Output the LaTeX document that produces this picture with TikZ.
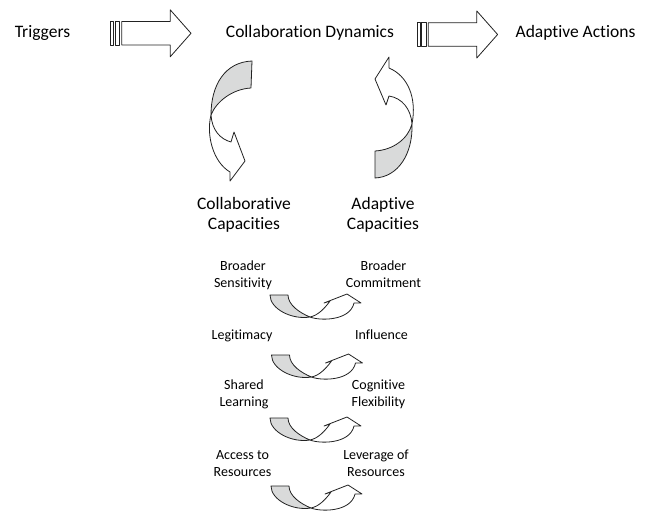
\documentclass[tikz,border=0pt]{standalone}
\usepackage{fontspec}
\setmainfont{Carlito}[Ligatures=NoCommon]
\definecolor{lgray}{HTML}{D9DADA}
\definecolor{ink}{HTML}{222222}
\newcommand{\mytwo}[2]{\begin{tabular}[t]{@{}c@{}}#1\\#2\end{tabular}}
\begin{document}
\begin{tikzpicture}[x=1pt,y=-1pt,line join=round,
  shp/.style={draw=ink,line width=0.8pt,fill=white},
  gry/.style={draw=ink,line width=0.8pt,fill=lgray},
  big/.style={font=\fontsize{17.5}{20}\selectfont,inner sep=0pt,anchor=base},
  sml/.style={font=\fontsize{14}{17}\selectfont,inner sep=0pt,anchor=base},
  striped/.pic={
    \draw[shp] (0,-11.7) rectangle (2.7,11.7);
    \draw[shp] (4.3,-11.7) rectangle (8.6,11.7);
    \draw[shp] (11,-11.7) -- (59.5,-11.7) -- (59.5,-23.5) -- (80.3,0) -- (59.5,23.5) -- (59.5,11.7) -- (11,11.7) -- cycle;
  },
  smallarrow/.pic={
    \draw[gry] (0,0) -- (18,0) .. controls (18,10) and (30,18) .. (40,22)
      .. controls (22,25) and (0,14) .. (0,0) -- cycle;
    \draw[shp] (40,22) .. controls (48,20.5) and (55,13) .. (60,6) -- (54,8) -- (77,-1) -- (91,8) -- (84,8)
      .. controls (80,26) and (50,26) .. (40,22) -- cycle;
  }]
\useasboundingbox (0,0) rectangle (646,511);

% top row
\node[big] (trig) at (42.5,38) {Triggers};
\node[big] (cd) at (310,38) {Collaboration Dynamics};
\node[big] (aa) at (575.5,38) {Adaptive Actions};
\pic at (110.7,33.3) {striped};
\pic at (417.3,34.5) {striped};

% big curved arrows (left: down, right: up)
\draw[gry] (252,61) -- (251,88) .. controls (232,89) and (216,102) .. (211,115)
  .. controls (211,85) and (225,62) .. (252,61) -- cycle;
\draw[shp] (211,115) .. controls (212,130) and (220,139) .. (231,142) -- (234,132) -- (245,161)
  -- (230,181) -- (230,172) .. controls (213,162) and (206,135) .. (211,115) -- cycle;

\draw[gry] (375,178) -- (375,151) .. controls (393,150) and (408,139) .. (412,124)
  .. controls (413,154) and (398,177) .. (375,178) -- cycle;
\draw[shp] (412,124) .. controls (411,109) and (402,98) .. (389,96) -- (386,105) -- (375,79)
  -- (389,57) -- (389,68) .. controls (408,76) and (417,98) .. (412,124) -- cycle;

% capacities
\node[big] (cc) at (244,209) {\mytwo{Collaborative}{Capacities}};
\node[big] (ac) at (383,209) {\mytwo{Adaptive}{Capacities}};

% pairs
\node[sml] (bs) at (243,270) {\mytwo{Broader}{Sensitivity}};
\node[sml] (bc) at (383.5,270) {\mytwo{Broader}{Commitment}};
\pic at (270,295) {smallarrow};

\node[sml] (lg) at (242,339) {Legitimacy};
\node[sml] (inf) at (381.5,339) {Influence};
\pic at (271.5,355) {smallarrow};

\node[sml] (sl) at (244,389) {\mytwo{Shared}{Learning}};
\node[sml] (cf) at (378.5,389) {\mytwo{Cognitive}{Flexibility}};
\pic at (270,418) {smallarrow};

\node[sml] (ar) at (242.5,459) {\mytwo{Access to}{Resources}};
\node[sml] (lr) at (376,459) {\mytwo{Leverage of}{Resources}};
\pic at (271,486) {smallarrow};
\end{tikzpicture}
\end{document}
